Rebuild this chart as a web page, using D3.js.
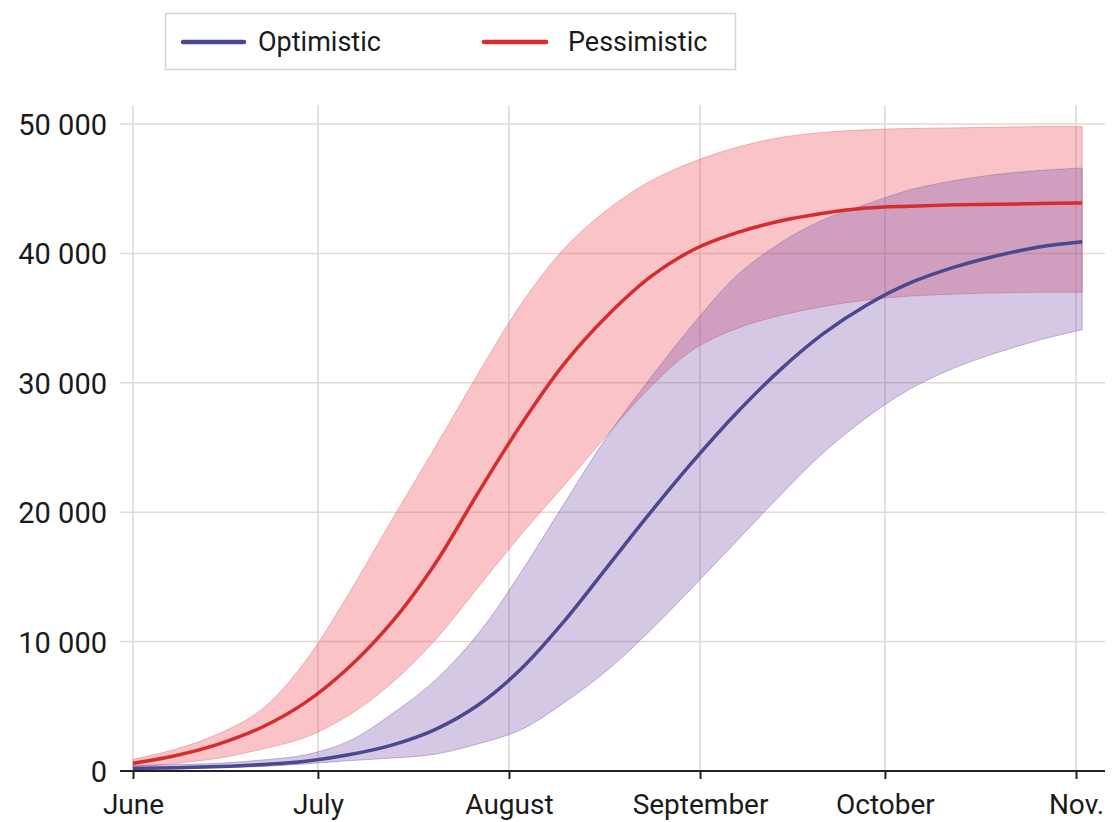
<!DOCTYPE html>
<html>
<head>
<meta charset="utf-8">
<script src="https://cdn.jsdelivr.net/npm/d3@7"></script>
<style>
  html, body { margin: 0; padding: 0; background: #fff; }
  svg { display: block; }
  text { font-family: Roboto, "Liberation Sans", sans-serif; fill: #1a1a1a; }
</style>
</head>
<body>
<svg id="chart" width="1114" height="822"></svg>
<script>
// ---- data (values in thousands of cases, days after June 1) ----
const days = [0, 7, 14, 21, 28, 35, 42, 49, 56, 63, 70, 77, 84, 91, 98, 105, 112, 119, 126, 133, 140, 147, 154];

const pessimisticMid   = [0.6, 1.2, 2.1, 3.4, 5.3, 8.0, 11.5, 16.0, 21.5, 26.8, 31.5, 35.2, 38.2, 40.3, 41.6, 42.5, 43.1, 43.5, 43.65, 43.75, 43.8, 43.85, 43.9];
const pessimisticHigh  = [0.9, 1.7, 2.9, 4.8, 8.5, 13.7, 19.4, 25.0, 30.7, 36.1, 40.4, 43.4, 45.6, 47.1, 48.2, 48.95, 49.35, 49.55, 49.65, 49.7, 49.75, 49.8, 49.8];
const pessimisticLow   = [0.3, 0.6, 1.0, 1.7, 2.6, 4.3, 6.8, 10.1, 14.2, 18.3, 22.1, 26.0, 29.7, 32.6, 34.2, 35.2, 35.9, 36.4, 36.7, 36.85, 36.95, 37.0, 37.0];

const optimisticMid    = [0.2, 0.25, 0.35, 0.5, 0.75, 1.25, 2.0, 3.2, 5.1, 7.9, 11.6, 15.8, 20.0, 24.0, 27.7, 31.0, 33.8, 36.0, 37.7, 38.9, 39.8, 40.5, 40.9];
const optimisticHigh   = [0.45, 0.5, 0.6, 0.85, 1.25, 2.3, 4.4, 7.0, 10.6, 15.4, 20.7, 25.9, 30.4, 34.6, 38.3, 40.8, 42.6, 43.8, 44.9, 45.6, 46.1, 46.4, 46.6];
const optimisticLow    = [0.1, 0.15, 0.25, 0.35, 0.55, 0.8, 1.0, 1.3, 2.1, 3.2, 5.3, 7.8, 10.9, 14.3, 17.8, 21.3, 24.6, 27.3, 29.5, 31.1, 32.3, 33.3, 34.1];

const yTicks = [0, 10000, 20000, 30000, 40000, 50000];
const monthTicks = ["2020-06-01", "2020-07-01", "2020-08-01", "2020-09-01", "2020-10-01", "2020-11-01"];
const monthLabels = ["June", "July", "August", "September", "October", "Nov."];
const seriesNames = ["Optimistic", "Pessimistic"];

// ---- setup ----
const svg = d3.select("#chart");
const parse = d3.timeParse("%Y-%m-%d");
const start = parse("2020-06-01");
const dates = days.map(d => d3.timeDay.offset(start, d));
const monthDates = monthTicks.map(parse);

const x = d3.scaleTime().domain([monthDates[0], monthDates[monthDates.length - 1]]).range([133, 1076]);
const y = d3.scaleLinear().domain([0, 50000]).range([771, 124]);

const gridLeft = 120, gridRight = 1105, gridTop = 105;

const colors = {
  redLine: "#d52d2b",
  blueLine: "#4a4990",
  redFill: "rgb(238,90,100)",
  blueFill: "rgb(112,72,170)"
};

// gridlines
const grid = svg.append("g");
grid.selectAll("line.h").data(yTicks.slice(1)).join("line")
  .attr("x1", gridLeft).attr("x2", gridRight)
  .attr("y1", d => y(d)).attr("y2", d => y(d))
  .attr("stroke", "#e4d8d2").attr("stroke-width", 1.5);
grid.selectAll("line.v").data(monthDates).join("line")
  .attr("x1", d => x(d)).attr("x2", d => x(d))
  .attr("y1", gridTop).attr("y2", y(0))
  .attr("stroke", "#ddd7d6").attr("stroke-width", 1.5);

// series
const mk = (lo, hi, mid) => dates.map((dt, i) => ({ dt, lo: lo[i] * 1000, hi: hi[i] * 1000, mid: mid[i] * 1000 }));
const pess = mk(pessimisticLow, pessimisticHigh, pessimisticMid);
const opt = mk(optimisticLow, optimisticHigh, optimisticMid);

const curve = d3.curveCatmullRom.alpha(0.5);
const area = d3.area().x(d => x(d.dt)).y0(d => y(d.lo)).y1(d => y(d.hi)).curve(curve);
const line = d3.line().x(d => x(d.dt)).y(d => y(d.mid)).curve(curve);

svg.append("path").datum(pess).attr("d", area)
  .attr("fill", colors.redFill).attr("fill-opacity", 0.36)
  .attr("stroke", "rgb(225,120,130)").attr("stroke-opacity", 0.5).attr("stroke-width", 1);
svg.append("path").datum(opt).attr("d", area)
  .attr("fill", colors.blueFill).attr("fill-opacity", 0.3)
  .attr("stroke", "rgb(140,110,170)").attr("stroke-opacity", 0.5).attr("stroke-width", 1);

svg.append("path").datum(pess).attr("d", line)
  .attr("fill", "none").attr("stroke", colors.redLine).attr("stroke-width", 3.5);
svg.append("path").datum(opt).attr("d", line)
  .attr("fill", "none").attr("stroke", colors.blueLine).attr("stroke-width", 3.5);

// x axis
const xAxis = d3.axisBottom(x).tickValues(monthDates).tickSize(8).tickFormat((d, i) => monthLabels[i]);
const gx = svg.append("g").attr("transform", `translate(0,${y(0)})`).call(xAxis);
gx.select(".domain").remove();
gx.append("line").attr("x1", gridLeft).attr("x2", gridRight).attr("y1", 0).attr("y2", 0)
  .attr("stroke", "#222").attr("stroke-width", 2);
gx.selectAll(".tick line").attr("stroke", "#222").attr("stroke-width", 2);
gx.selectAll(".tick text").attr("y", 43).attr("dy", 0)
  .style("font-size", "28px").style("font-family", "Roboto, sans-serif").attr("fill", "#1a1a1a");

// y axis labels
const fmt = d => d === 0 ? "0" : d3.format(",")(d).replace(",", " ");
const yAxis = d3.axisLeft(y).tickValues(yTicks).tickSize(0).tickPadding(0).tickFormat(fmt);
const gy = svg.append("g").attr("transform", `translate(107,0)`).call(yAxis);
gy.select(".domain").remove();
gy.selectAll(".tick text").attr("x", 0).attr("dy", "0.36em")
  .style("font-size", "29px").style("font-family", "Roboto, sans-serif").attr("fill", "#1a1a1a");

// legend
const lg = svg.append("g");
lg.append("rect").attr("x", 165.5).attr("y", 13.5).attr("width", 570).attr("height", 56)
  .attr("fill", "#fff").attr("stroke", "#d4d4d4").attr("stroke-width", 1.5);
const legendItems = [
  { name: seriesNames[0], color: colors.blueLine, x1: 183, x2: 244, tx: 258 },
  { name: seriesNames[1], color: colors.redLine, x1: 484, x2: 546, tx: 568 }
];
legendItems.forEach(it => {
  lg.append("line").attr("x1", it.x1).attr("x2", it.x2).attr("y1", 42).attr("y2", 42)
    .attr("stroke", it.color).attr("stroke-width", 4.5).attr("stroke-linecap", "round");
  lg.append("text").attr("x", it.tx).attr("y", 51).text(it.name)
    .style("font-size", "27px");
});
</script>
</body>
</html>
